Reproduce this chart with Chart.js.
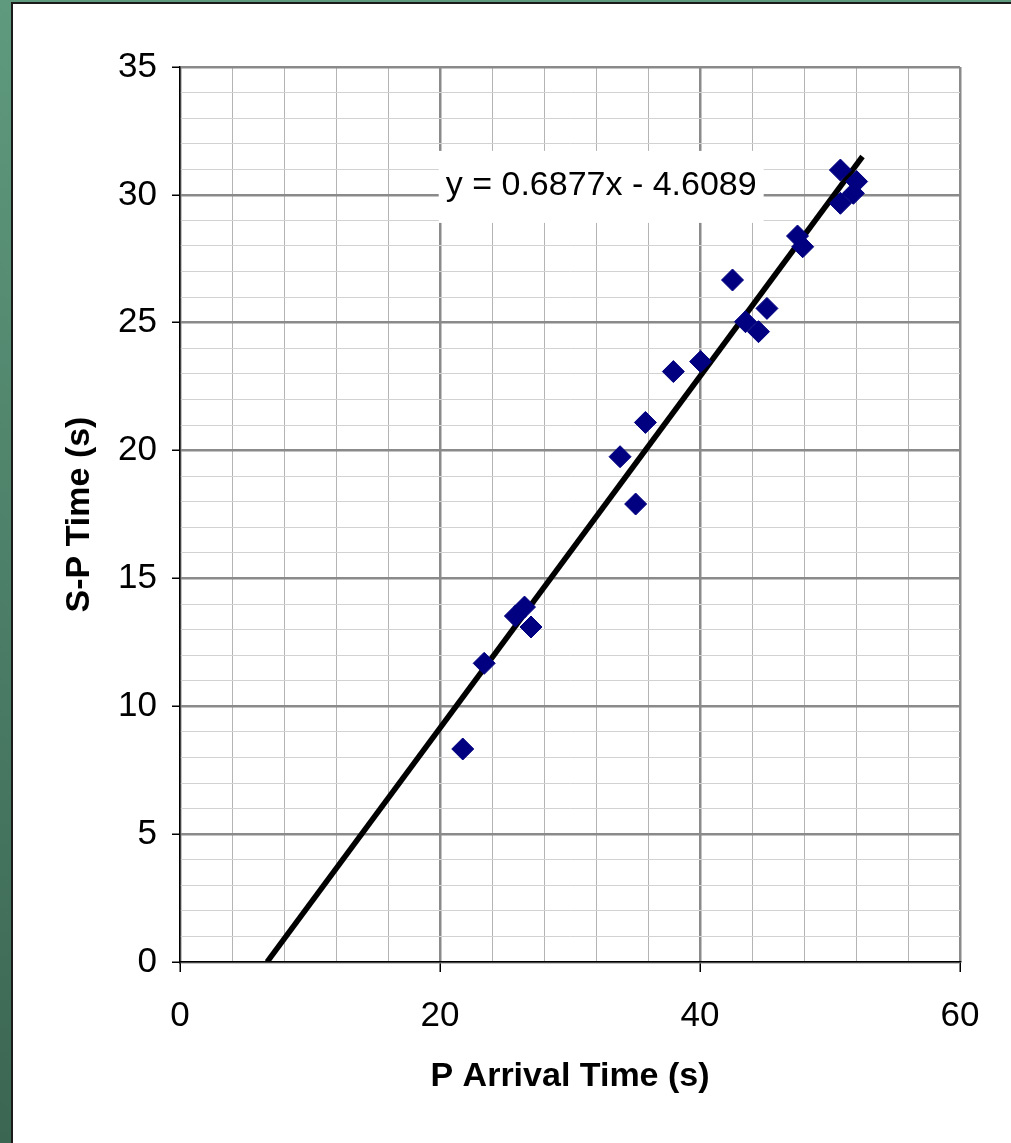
<!DOCTYPE html>
<html>
<head>
<meta charset="utf-8">
<script src="https://cdn.jsdelivr.net/npm/chart.js@4.4.0/dist/chart.umd.min.js"></script>
<style>
  html, body { margin: 0; padding: 0; }
  body {
    width: 1011px; height: 1143px; overflow: hidden; position: relative;
    background: linear-gradient(to bottom, #5f9a7e, #3b6652);
  }
  #panel {
    position: absolute; left: 11px; top: 2px; width: 1000px; height: 1141px;
    background: #fff; border-left: 2px solid #1b1b1b; border-top: 2px solid #1b1b1b;
  }
  #myChart { position: absolute; left: 0; top: 0; }
</style>
</head>
<body>
<div id="panel"><canvas id="myChart" width="998" height="1139"></canvas></div>
<script>
// P arrival time vs S-P time
const pArrival = [21.75, 23.4, 25.8, 26.5, 27.0, 33.85, 35.05, 35.8, 37.95, 40.05,
                  42.5, 43.5, 44.5, 45.15, 47.5, 47.9, 50.8, 52.05, 51.8, 50.8];
const spTime   = [8.33, 11.68, 13.53, 13.88, 13.1, 19.76, 17.91, 21.1, 23.09, 23.48,
                  26.67, 25.04, 24.65, 25.56, 28.39, 27.97, 30.97, 30.52, 30.06, 29.67];

// trend line ends
const trendX = [6.7, 52.5];
const trendY = [0, 31.5];
const trendText = 'y = 0.6877x - 4.6089';

const xTicks = [0, 20, 40, 60];
const yTicks = [0, 5, 10, 15, 20, 25, 30, 35];

const fontFam = '"Liberation Sans", Arial, sans-serif';

const points = pArrival.map((x, i) => ({x: x, y: spTime[i]}));
const trend = trendX.map((x, i) => ({x: x, y: trendY[i]}));

// white box with the equation
const eqLabel = {
  id: 'eqLabel',
  beforeDatasetsDraw(chart) {
    const ctx = chart.ctx;
    const xs = chart.scales.x, ys = chart.scales.y;
    const cx = xs.getPixelForValue(32.4);
    const cy = ys.getPixelForValue(30.35);
    ctx.save();
    ctx.font = '34px ' + fontFam;
    const w = ctx.measureText(trendText).width;
    ctx.fillStyle = '#fff';
    ctx.fillRect(cx - w / 2 - 7, cy - 35, w + 14, 72);
    ctx.fillStyle = '#000';
    ctx.textAlign = 'center';
    ctx.textBaseline = 'middle';
    ctx.fillText(trendText, cx, cy);
    ctx.restore();
  }
};

const data = {
  datasets: [{
    label: 'Data',
    data: points,
    pointStyle: 'rectRot',
    pointRadius: 11,
    pointHoverRadius: 11,
    backgroundColor: '#000080',
    borderColor: '#000080',
    borderWidth: 1,
    showLine: false
  }, {
    label: 'Trend',
    data: trend,
    showLine: true,
    pointRadius: 0,
    borderColor: '#000',
    borderWidth: 5.5,
    fill: false
  }]
};

const config = {
  type: 'scatter',
  data,
  options: {
    responsive: false,
    animation: false,
    layout: { padding: { left: 0, top: 63, right: 51, bottom: 0 } },
    plugins: { legend: { display: false }, tooltip: { enabled: false } },
    scales: {
      x: {
        type: 'linear', min: 0, max: 60,
        afterFit: (s) => { s.height = 181; },
        border: { display: true, color: '#000', width: 1.5 },
        grid: {
          color: (c) => c.tick.value % 20 === 0 ? '#8a8a8a' : '#b4b4b4',
          lineWidth: (c) => c.tick.value % 20 === 0 ? 2.5 : 1,
          tickColor: (c) => c.tick.value % 20 === 0 ? '#000' : 'rgba(0,0,0,0)',
          tickLength: 10, tickWidth: 1.5
        },
        ticks: {
          stepSize: 4, autoSkip: false, maxRotation: 0, padding: 23,
          color: '#000', font: { family: fontFam, size: 35 },
          callback: (v) => xTicks.includes(v) ? String(v) : ''
        },
        title: {
          display: true, text: 'P Arrival Time (s)', color: '#000',
          font: { family: fontFam, size: 34, weight: 'bold' },
          padding: { top: 0, bottom: 46 }
        }
      },
      y: {
        type: 'linear', min: 0, max: 35,
        afterFit: (s) => { s.width = 167; },
        border: { display: true, color: '#000', width: 1.5 },
        grid: {
          color: (c) => c.tick.value % 5 === 0 ? '#8a8a8a' : '#d2d2d2',
          lineWidth: (c) => c.tick.value % 5 === 0 ? 2.5 : 1,
          tickColor: (c) => c.tick.value % 5 === 0 ? '#000' : 'rgba(0,0,0,0)',
          tickLength: 8, tickWidth: 1.5
        },
        ticks: {
          stepSize: 1, autoSkip: false, padding: 15,
          color: '#000', font: { family: fontFam, size: 35 },
          callback: (v) => yTicks.includes(v) ? String(v) : ''
        },
        title: {
          display: true, text: 'S-P Time (s)', color: '#000',
          font: { family: fontFam, size: 34, weight: 'bold' },
          padding: { top: 46, bottom: 0 }
        }
      }
    }
  },
  plugins: [eqLabel]
};

const myChart = new Chart(document.getElementById('myChart'), config);
</script>
</body>
</html>
